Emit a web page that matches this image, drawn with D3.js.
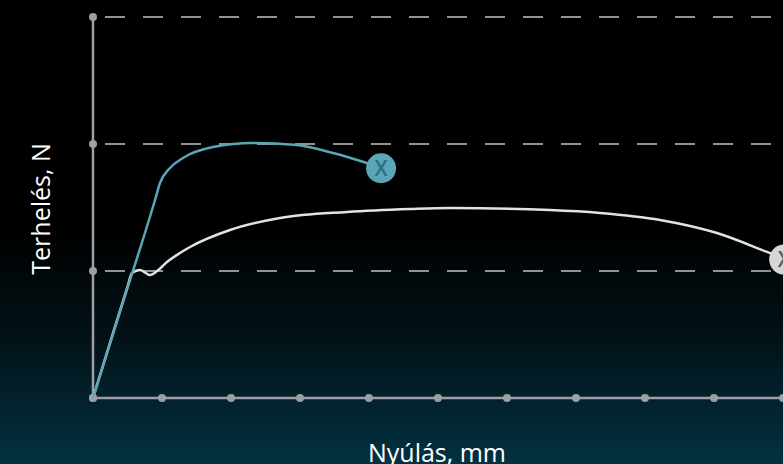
<!DOCTYPE html>
<html>
<head>
<meta charset="utf-8">
<script src="https://cdn.jsdelivr.net/npm/d3@7"></script>
<style>
  html, body { margin: 0; padding: 0; background: #000; }
  svg { display: block; }
  .lbl { font-family: "Open Sans", "Noto Sans", sans-serif; fill: #fff; font-size: 25px; }
</style>
</head>
<body>
<div class="chart"></div>
<script>
// x: elongation (mm, grid units), y: load (N, grid units)
var xTicks = [0, 1, 2, 3, 4, 5, 6, 7, 8, 9, 10];
var yTicks = [0, 1, 2, 3];
var xLabel = "Nyúlás, mm";
var yLabel = "Terhelés, N";

var blueX = [0, 0.45, 0.899, 0.971, 1.116, 1.304, 1.739, 2.319, 2.957, 3.478, 4.145];
var blueY = [0, 0.78, 1.559, 1.693, 1.811, 1.890, 1.976, 2.008, 1.992, 1.929, 1.819];

var whiteX = [0, 0.25, 0.5, 0.565, 0.681, 0.826, 0.928, 1.072, 1.261, 1.406, 1.986, 2.710, 3.681, 4.594, 5.174, 6.623, 7.348, 8.217, 9.043, 9.768, 9.957];
var whiteY = [0, 0.44, 0.875, 0.985, 1.008, 0.969, 1.0, 1.071, 1.142, 1.189, 1.323, 1.417, 1.465, 1.488, 1.496, 1.480, 1.457, 1.402, 1.299, 1.150, 1.110];

var width = 783, height = 464;

var svg = d3.select('.chart').append('svg').attr('width', width).attr('height', height);

var defs = svg.append('defs');
var grad = defs.append('linearGradient').attr('id', 'bg').attr('x1', 0).attr('y1', 0).attr('x2', 0).attr('y2', 1);
grad.append('stop').attr('offset', '0.5').attr('stop-color', '#000000');
grad.append('stop').attr('offset', '0.75').attr('stop-color', '#02141a');
grad.append('stop').attr('offset', '1').attr('stop-color', '#033242');
svg.append('rect').attr('width', width).attr('height', height).attr('fill', 'url(#bg)');

var x = d3.scaleLinear().domain([0, 10]).range([93, 783]);
var y = d3.scaleLinear().domain([0, 3]).range([398, 17]);

// dashed grid
svg.selectAll('.grid').data(yTicks.slice(1)).enter().append('line')
    .attr('x1', x(0) + 12).attr('x2', width)
    .attr('y1', function(d){ return y(d); }).attr('y2', function(d){ return y(d); })
    .attr('stroke', '#c4c4c4').attr('stroke-width', 1.5)
    .attr('stroke-dasharray', '20,18');

// axes
svg.append('line').attr('x1', x(0)).attr('x2', x(0)).attr('y1', y(0)).attr('y2', y(3))
    .attr('stroke', '#9e9ea6').attr('stroke-width', 2.5);
svg.append('line').attr('x1', x(0)).attr('x2', width).attr('y1', y(0)).attr('y2', y(0))
    .attr('stroke', '#9e9ea6').attr('stroke-width', 2.5);

svg.selectAll('.ydot').data(yTicks).enter().append('circle')
    .attr('cx', x(0)).attr('cy', function(d){ return y(d); }).attr('r', 4).attr('fill', '#9e9ea6');
svg.selectAll('.xdot').data(xTicks).enter().append('circle')
    .attr('cx', function(d){ return x(d); }).attr('cy', y(0)).attr('r', 4).attr('fill', '#9e9ea6');

var line = d3.line().x(function(d){ return x(d[0]); }).y(function(d){ return y(d[1]); })
    .curve(d3.curveMonotoneX);

var whiteData = d3.zip(whiteX, whiteY);
var blueData = d3.zip(blueX, blueY);

svg.append('path').attr('d', line(whiteData)).attr('fill', 'none')
    .attr('stroke', '#e2e2e2').attr('stroke-width', 2.5);
svg.append('path').attr('d', line(blueData)).attr('fill', 'none')
    .attr('stroke', '#5ba5b8').attr('stroke-width', 2.5);

// end markers
function marker(pt, fill, txt){
    var g = svg.append('g').attr('transform', 'translate(' + x(pt[0]) + ',' + y(pt[1]) + ')');
    g.append('circle').attr('r', 15).attr('fill', fill);
    g.append('text').attr('text-anchor', 'middle').attr('dy', '0.36em')
        .attr('font-family', '"Open Sans", sans-serif').attr('font-size', 21)
        .attr('font-weight', 600)
        .attr('fill', txt).text('X');
}
marker([blueX[blueX.length-1] + 0.03, blueY[blueY.length-1] - 0.01], '#5ba5b8', '#2a7184');
marker([whiteX[whiteX.length-1] + 0.06, whiteY[whiteY.length-1] - 0.02], '#d6d6d6', '#555a60');

svg.append('text').attr('class', 'lbl').attr('x', 437).attr('y', 462)
    .attr('text-anchor', 'middle').text(xLabel);
svg.append('text').attr('class', 'lbl')
    .attr('transform', 'translate(50,' + 209 + ') rotate(-90)')
    .attr('text-anchor', 'middle').text(yLabel);
</script>
</body>
</html>
